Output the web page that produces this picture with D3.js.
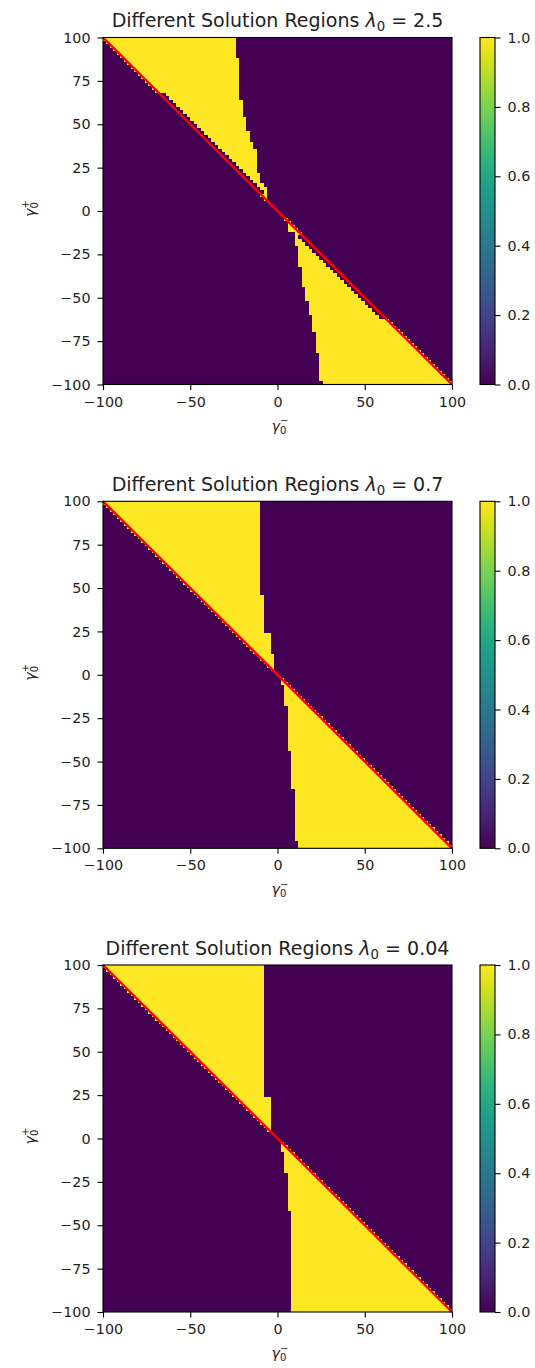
<!DOCTYPE html>
<html>
<head>
<meta charset="utf-8">
<script src="https://cdn.jsdelivr.net/npm/d3@7"></script>
<style>
body{margin:0;background:#fff}
text{font-family:"DejaVu Sans",sans-serif;fill:#222}
</style>
</head>
<body>
<svg></svg>
<script>
var lambdas = ["2.5", "0.7", "0.04"]

// outer boundary of the yellow region: [y from which it holds, x of the boundary], top to bottom
var edge1 = [[100,-24.4],[87,-22.8],[76.7,-21.5],[64,-19.6],[53.6,-17.6],[45.5,-15.8],[39.8,-13.9],
             [35.2,-11.9],[29.4,-11],[22.5,-9.5],[16.7,-7.7],[13.8,-5.5],
             [0,4],[-6.9,6.4],[-12.7,9.3],[-20.7,11.2],[-32.3,13.5],[-43.8,15.9],[-51.3,17.9],
             [-59.9,19.8],[-70.3,21.7],[-81.8,23.6],[-97.4,25.5]]
var edge2 = [[100,-10.4],[76,-9.1],[45,-7.2],[24.2,-4.3],[11.5,-2.8],
             [0,2.4],[-6.7,4.3],[-19,6.2],[-43.2,8.1],[-65.1,9.1],[-95.1,11]]
var edge3 = [[100,-8.5],[54.7,-7.2],[23.7,-4.7],[9.2,-3.3],
             [0,2.4],[-8.1,4.3],[-19.7,6.2],[-41.6,7.6]]

// dark gap between the yellow region and the red diagonal: [y from, gap]
var gap1 = [[100,0],[67,4],[10,0],[-14,4],[-62,0]]
var gap2 = [[100,0]]
var gap3 = [[100,0]]

var redLine = [[-100,100],[100,-100]]

var xTicks = [-100,-50,0,50,100]
var yTicks = [-100,-75,-50,-25,0,25,50,75,100]
var cbTicks = [0,0.2,0.4,0.6,0.8,1.0]
var nCells = 100

var panels = [
  {lam: lambdas[0], edge: edge1, gap: gap1, top: 37.5},
  {lam: lambdas[1], edge: edge2, gap: gap2, top: 501.3},
  {lam: lambdas[2], edge: edge3, gap: gap3, top: 965}
]

var plotW = {left: 103, right: 452}
var plotH = 347
var cb = {left: 480, width: 15}
var tickFont = 14.3

var svg = d3.select("svg").attr("width", 535).attr("height", 1368)

var color = d3.scaleSequential(d3.interpolateViridis).domain([0,1])

var lookup = function(steps, y){
  var v = steps[0][1]
  steps.forEach(function(s){ if (y <= s[0]) v = s[1] })
  return v
}

// colour bar gradient
var grad = svg.append("defs").append("linearGradient")
              .attr("id","viridis").attr("x1",0).attr("x2",0).attr("y1",1).attr("y2",0)
grad.selectAll("stop")
    .data(d3.range(0, 1.0001, 0.05))
    .enter().append("stop")
    .attr("offset", function(d){return d})
    .attr("stop-color", function(d){return color(d)})

panels.forEach(function(p){
  var xScale = d3.scaleLinear().domain([-100,100]).range([plotW.left, plotW.right])
  var yScale = d3.scaleLinear().domain([-100,100]).range([p.top + plotH, p.top])
  var step = 200 / nCells

  var cells = []
  for (var j = 0; j < nCells; j++){
    var cy = 100 - step/2 - j*step
    var e = lookup(p.edge, cy), g = lookup(p.gap, cy)
    for (var i = 0; i < nCells; i++){
      var cx = -100 + step/2 + i*step
      var v
      if (cy > 0) v = (cx + cy >= g && cx < e) ? 1 : 0
      else v = (cx + cy <= -g && cx > e) ? 1 : 0
      cells.push({x: cx, y: cy, v: v})
    }
  }

  var g = svg.append("g")

  // background in the 0 colour so no seams show between cells
  g.append("rect")
   .attr("x", plotW.left).attr("y", p.top)
   .attr("width", plotW.right - plotW.left).attr("height", plotH)
   .attr("fill", color(0))

  g.append("g")
   .attr("shape-rendering","crispEdges")
   .selectAll("rect")
   .data(cells)
   .enter()
   .append("rect")
   .attr("x", function(d){return xScale(d.x - step/2)})
   .attr("y", function(d){return yScale(d.y + step/2)})
   .attr("width", function(d){return Math.min(xScale(d.x + step/2) - xScale(d.x - step/2) + 0.8, plotW.right - xScale(d.x - step/2))})
   .attr("height", function(d){return Math.min(yScale(d.y - step/2) - yScale(d.y + step/2) + 0.8, p.top + plotH - yScale(d.y + step/2))})
   .attr("fill", function(d){return color(d.v)})

  var line = d3.line()
               .x(function(d){return xScale(d[0])})
               .y(function(d){return yScale(d[1])})
  g.append("path")
   .datum(redLine)
   .attr("d", line)
   .attr("fill","none")
   .attr("stroke","#ff0000")
   .attr("stroke-width", 2.4)

  // frame
  g.append("rect")
   .attr("x", plotW.left).attr("y", p.top)
   .attr("width", plotW.right - plotW.left).attr("height", plotH)
   .attr("fill","none").attr("stroke","#000").attr("stroke-width",1.1)

  var xAxis = d3.axisBottom(xScale).tickValues(xTicks).tickSize(5.5).tickPadding(6.5)
  var yAxis = d3.axisLeft(yScale).tickValues(yTicks).tickSize(5.5).tickPadding(7)

  var gx = g.append("g").attr("transform","translate(0," + (p.top + plotH) + ")").call(xAxis)
  var gy = g.append("g").attr("transform","translate(" + plotW.left + ",0)").call(yAxis)
  ;[gx, gy].forEach(function(a){
    a.select(".domain").remove()
    a.attr("font-size", tickFont).attr("font-family", "DejaVu Sans")
    a.selectAll("line").attr("stroke","#000").attr("stroke-width",1.1)
    a.selectAll("text").style("fill","#222")
  })

  // title
  var t = g.append("text")
           .attr("x", (plotW.left + plotW.right)/2)
           .attr("y", p.top - 10.5)
           .attr("text-anchor","middle")
           .attr("font-size", 19)
  t.append("tspan").text("Different Solution Regions ")
  t.append("tspan").attr("font-style","italic").text("λ")
  t.append("tspan").attr("font-size", 13.3).attr("dy", 4).text("0")
  t.append("tspan").attr("dy", -4).text(" = " + p.lam)

  // x label
  var xl = g.append("text")
            .attr("x", (plotW.left + plotW.right)/2 - 6)
            .attr("y", p.top + plotH + 46)
            .attr("font-size", tickFont)
  xl.append("tspan").attr("font-style","italic").text("γ")
  xl.append("tspan").attr("font-size", 10).attr("dy", 3).text("0")
  xl.append("tspan").attr("font-size", 10).attr("dx", -6.4).attr("dy", -9.5).text("−")

  // y label
  var yl = g.append("text")
            .attr("transform","translate(35," + (p.top + plotH/2 + 6) + ") rotate(-90)")
            .attr("font-size", tickFont)
  yl.append("tspan").attr("font-style","italic").text("γ")
  yl.append("tspan").attr("font-size", 10).attr("dy", 3).text("0")
  yl.append("tspan").attr("font-size", 10).attr("dx", -6.4).attr("dy", -9.5).text("+")

  // colour bar
  var cbScale = d3.scaleLinear().domain([0,1]).range([p.top + plotH, p.top])
  g.append("rect")
   .attr("x", cb.left).attr("y", p.top)
   .attr("width", cb.width).attr("height", plotH)
   .attr("fill","url(#viridis)")
   .attr("stroke","#000").attr("stroke-width",1.1)
  var cbAxis = d3.axisRight(cbScale).tickValues(cbTicks).tickFormat(d3.format(".1f")).tickSize(5.5).tickPadding(7)
  var gc = g.append("g").attr("transform","translate(" + (cb.left + cb.width) + ",0)").call(cbAxis)
  gc.select(".domain").remove()
  gc.attr("font-size", tickFont).attr("font-family", "DejaVu Sans")
  gc.selectAll("line").attr("stroke","#000").attr("stroke-width",1.1)
  gc.selectAll("text").style("fill","#222")
})
</script>
</body>
</html>
